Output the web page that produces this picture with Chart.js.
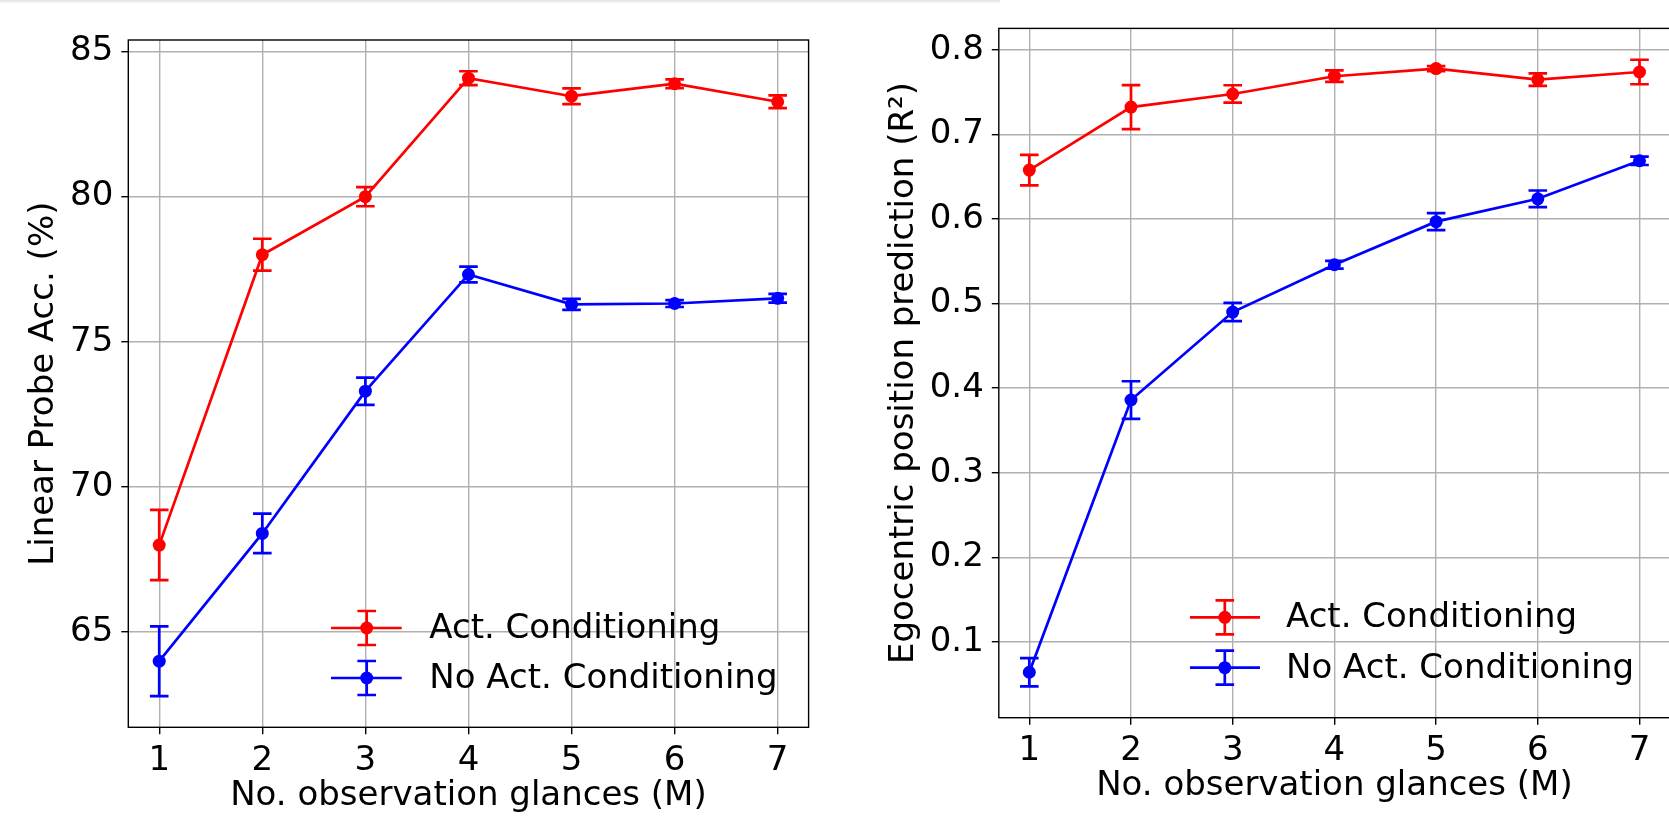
<!DOCTYPE html>
<html>
<head>
<meta charset="utf-8">
<script src="https://cdn.jsdelivr.net/npm/chart.js@4.4.1/dist/chart.umd.min.js"></script>
<style>
  html, body { margin: 0; padding: 0; background: #fff; overflow: hidden; }
  #wrap { position: relative; width: 1669px; height: 823px; overflow: hidden; }
  #left { position: absolute; left: 0; top: 0; }
  #right { position: absolute; left: 840px; top: 0; }
  .shade { position: absolute; left: 0; top: 0; width: 1000px; height: 4px;
    background: linear-gradient(#e2e2e2, rgba(255, 255, 255, 0)); }
</style>
</head>
<body>
<div id="wrap">
  <canvas id="left" width="840" height="823"></canvas>
  <canvas id="right" width="840" height="823"></canvas>
  <div class="shade"></div>
</div>
<script>
// values
const glances = [1, 2, 3, 4, 5, 6, 7]
const seriesNames = ['Act. Conditioning', 'No Act. Conditioning']

const probeAct = [68.0, 78.0, 80.0, 84.08, 83.46, 83.89, 83.27]
const probeActErr = [1.21, 0.55, 0.33, 0.24, 0.27, 0.15, 0.22]
const probeNoAct = [64.0, 68.4, 73.3, 77.32, 76.29, 76.32, 76.5]
const probeNoActErr = [1.2, 0.68, 0.47, 0.27, 0.19, 0.12, 0.15]

const egoAct = [0.658, 0.7325, 0.748, 0.769, 0.778, 0.765, 0.774]
const egoActErr = [0.018, 0.026, 0.0103, 0.0068, 0.003, 0.0074, 0.0145]
const egoNoAct = [0.064, 0.386, 0.49, 0.546, 0.597, 0.624, 0.669]
const egoNoActErr = [0.0167, 0.0222, 0.0108, 0.0046, 0.01, 0.0098, 0.005]

const probeTicks = [65, 70, 75, 80, 85]
const egoTicks = [0.1, 0.2, 0.3, 0.4, 0.5, 0.6, 0.7, 0.8]

const RED = '#ff0000'
const BLUE = '#0000ff'
const FONT = 'DejaVu Sans'
const LW = 2.7
const CAP = 9.3
const RADIUS = 6.5

Chart.defaults.font.family = FONT
Chart.defaults.color = '#000'

// matplotlib style 5% margins around data incl. error bars
function limits(vals, errs) {
  let lo = Infinity, hi = -Infinity
  vals.forEach((arr, k) => arr.forEach((v, i) => {
    lo = Math.min(lo, v - errs[k][i])
    hi = Math.max(hi, v + errs[k][i])
  }))
  const pad = (hi - lo) * 0.05
  return [lo - pad, hi + pad]
}

const errorBars = {
  id: 'errorBars',
  afterDatasetDraw(chart, args) {
    const ds = chart.data.datasets[args.index]
    if (!ds.errors) return
    const ctx = chart.ctx
    const xs = chart.scales.x
    const ys = chart.scales.y
    ctx.save()
    ctx.strokeStyle = ds.borderColor
    ctx.lineWidth = LW
    ds.data.forEach((p, i) => {
      const px = xs.getPixelForValue(p.x)
      const top = ys.getPixelForValue(p.y + ds.errors[i])
      const bot = ys.getPixelForValue(p.y - ds.errors[i])
      ctx.beginPath()
      ctx.moveTo(px, top)
      ctx.lineTo(px, bot)
      ctx.moveTo(px - CAP, top)
      ctx.lineTo(px + CAP, top)
      ctx.moveTo(px - CAP, bot)
      ctx.lineTo(px + CAP, bot)
      ctx.stroke()
    })
    ctx.restore()
  },
}

// spines on all four sides + errorbar legend
const frameAndLegend = {
  id: 'frameAndLegend',
  afterDraw(chart, args, opts) {
    const ctx = chart.ctx
    const a = chart.chartArea
    ctx.save()
    ctx.strokeStyle = '#000'
    ctx.lineWidth = 1.4
    ctx.strokeRect(a.left, a.top, a.right - a.left, a.bottom - a.top)

    chart.data.datasets.forEach((ds, i) => {
      const y = a.bottom - opts.rows[i]
      const mx = a.right - opts.mark
      ctx.strokeStyle = ds.borderColor
      ctx.fillStyle = ds.borderColor
      ctx.lineWidth = LW
      ctx.beginPath()
      ctx.moveTo(a.right - opts.lineFrom, y)
      ctx.lineTo(a.right - opts.lineTo, y)
      ctx.moveTo(mx, y - 17)
      ctx.lineTo(mx, y + 17)
      ctx.moveTo(mx - CAP, y - 17)
      ctx.lineTo(mx + CAP, y - 17)
      ctx.moveTo(mx - CAP, y + 17)
      ctx.lineTo(mx + CAP, y + 17)
      ctx.stroke()
      ctx.beginPath()
      ctx.arc(mx, y, RADIUS, 0, Math.PI * 2)
      ctx.fill()
      ctx.fillStyle = '#000'
      ctx.font = '34px "' + FONT + '"'
      ctx.textBaseline = 'middle'
      ctx.textAlign = 'left'
      ctx.fillText(ds.label, a.right - opts.text, y + 1)
    })
    ctx.restore()
  },
}

function makeDataset(label, vals, errs, color) {
  return {
    label: label,
    data: glances.map((g, i) => ({ x: g, y: vals[i] })),
    errors: errs,
    borderColor: color,
    backgroundColor: color,
    borderWidth: LW,
    pointRadius: RADIUS,
    pointHoverRadius: RADIUS,
    pointBorderWidth: 0,
    pointBackgroundColor: color,
    tension: 0,
  }
}

function makeChart(id, cfg) {
  const [ymin, ymax] = limits(cfg.vals, cfg.errs)
  return new Chart(document.getElementById(id), {
    type: 'line',
    data: {
      datasets: [
        makeDataset(seriesNames[0], cfg.vals[0], cfg.errs[0], RED),
        makeDataset(seriesNames[1], cfg.vals[1], cfg.errs[1], BLUE),
      ],
    },
    options: {
      responsive: false,
      animation: false,
      events: [],
      layout: { padding: { top: cfg.top, right: cfg.right, left: 0, bottom: 0 } },
      plugins: {
        legend: { display: false },
        tooltip: { enabled: false },
        frameAndLegend: cfg.legend,
      },
      scales: {
        x: {
          type: 'linear',
          min: 0.7,
          max: 7.3,
          bounds: 'data',
          afterFit: (s) => { s.height = cfg.xHeight },
          afterBuildTicks: (s) => { s.ticks = glances.map((v) => ({ value: v })) },
          ticks: {
            font: { size: 34 },
            padding: 6,
            callback: (v) => String(v),
          },
          grid: { color: '#b0b0b0', lineWidth: 1.4, tickLength: 7, tickColor: '#000', tickWidth: 1.4 },
          border: { display: false },
          title: {
            display: true,
            text: 'No. observation glances (M)',
            font: { size: 34 },
            padding: { top: 0, bottom: cfg.xTitlePad },
          },
        },
        y: {
          type: 'linear',
          min: ymin,
          max: ymax,
          bounds: 'data',
          afterFit: (s) => { s.width = cfg.yWidth },
          afterBuildTicks: (s) => { s.ticks = cfg.ticks.map((v) => ({ value: v })) },
          ticks: {
            font: { size: 34 },
            padding: 8,
            callback: cfg.fmt,
          },
          grid: { color: '#b0b0b0', lineWidth: 1.4, tickLength: 7, tickColor: '#000', tickWidth: 1.4 },
          border: { display: false },
          title: {
            display: true,
            text: cfg.yTitle,
            font: { size: 34 },
            padding: { top: cfg.yTitlePad, bottom: 0 },
          },
        },
      },
    },
    plugins: [errorBars, frameAndLegend],
  })
}

makeChart('left', {
  vals: [probeAct, probeNoAct],
  errs: [probeActErr, probeNoActErr],
  ticks: probeTicks,
  fmt: (v) => String(v),
  yTitle: 'Linear Probe Acc. (%)',
  top: 40,
  right: 31.4,
  yWidth: 128.3,
  xHeight: 95.7,
  xTitlePad: 6,
  yTitlePad: 24,
  legend: { rows: [99.3, 49.3], lineFrom: 477.6, lineTo: 406.9, mark: 441.9, text: 379.3 },
})

makeChart('right', {
  vals: [egoAct, egoNoAct],
  errs: [egoActErr, egoNoActErr],
  ticks: egoTicks,
  fmt: (v) => v.toFixed(1),
  yTitle: 'Egocentric position prediction (R²)',
  top: 26,
  right: 10,
  yWidth: 158.8,
  xHeight: 105.3,
  xTitlePad: 16.6,
  yTitlePad: 43.6,
  legend: { rows: [100.4, 50], lineFrom: 480, lineTo: 410, mark: 445.2, text: 384 },
})
</script>
</body>
</html>
